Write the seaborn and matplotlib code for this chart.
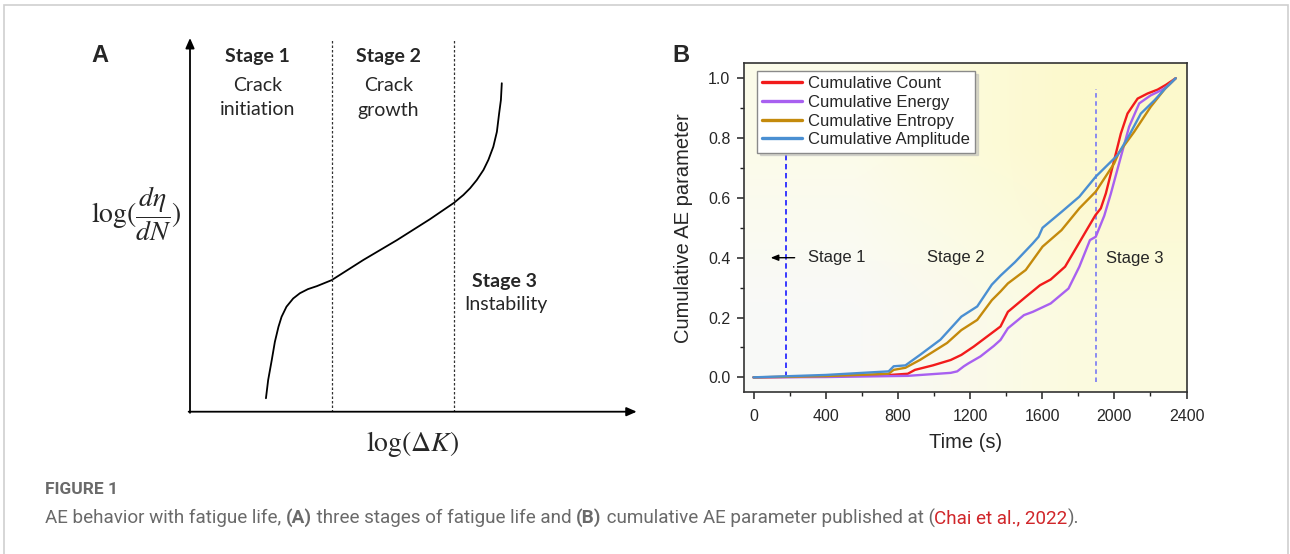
import matplotlib
matplotlib.use("Agg")
import matplotlib.pyplot as plt
from matplotlib.patches import Rectangle
import seaborn as sns
import pandas as pd
import numpy as np

# ---- Panel A: schematic crack growth curve (arbitrary units, 0-100)
curve_x = [17.0, 17.5, 18.3, 19.0, 19.8, 20.5, 21.6, 23.1, 24.6, 26.4, 28.4, 31.7, 38.8, 46.3,
           53.7, 59.1, 61.2, 62.7, 64.2, 65.7, 66.8, 67.9, 68.7, 69.2, 69.6, 69.8]
curve_y = [3.6, 8.5, 13.8, 18.7, 22.7, 25.4, 28.1, 30.3, 31.7, 32.8, 33.6, 35.2, 40.6, 45.9,
           51.5, 55.9, 58.0, 59.8, 62.0, 64.7, 67.4, 70.9, 74.9, 79.8, 83.4, 87.9]
stage_bounds = [31.7, 59.1]

# ---- Panel B: cumulative AE parameters
time_count = [0, 300, 756, 855, 895, 994, 1093, 1152, 1221, 1296, 1369, 1410, 1509, 1588,
              1647, 1727, 1776, 1846, 1895, 1925, 1953, 1990, 2036, 2073, 2129, 2184, 2240,
              2286, 2340]
count = [0, 0.002, 0.008, 0.012, 0.025, 0.04, 0.058, 0.075, 0.103, 0.137, 0.17, 0.219, 0.269,
         0.308, 0.327, 0.37, 0.42, 0.492, 0.542, 0.565, 0.615, 0.704, 0.815, 0.882, 0.932,
         0.949, 0.962, 0.978, 1.0]

time_energy = [0, 400, 855, 1093, 1129, 1166, 1192, 1258, 1332, 1369, 1410, 1499, 1548, 1647,
               1746, 1806, 1865, 1897, 1944, 1981, 2036, 2082, 2138, 2202, 2261, 2301, 2340]
energy = [0, 0.001, 0.005, 0.015, 0.02, 0.037, 0.047, 0.07, 0.105, 0.125, 0.164, 0.208, 0.219,
          0.247, 0.297, 0.37, 0.459, 0.47, 0.54, 0.615, 0.737, 0.838, 0.916, 0.943, 0.96,
          0.977, 1.0]

time_entropy = [0, 400, 749, 777, 842, 925, 1073, 1152, 1240, 1321, 1369, 1410, 1509, 1602,
                1707, 1806, 1897, 1999, 2024, 2110, 2202, 2281, 2340]
entropy = [0, 0.004, 0.012, 0.025, 0.032, 0.059, 0.115, 0.158, 0.192, 0.258, 0.287, 0.314,
           0.359, 0.437, 0.492, 0.565, 0.621, 0.715, 0.75, 0.821, 0.905, 0.965, 1.0]

time_amp = [0, 400, 749, 777, 842, 925, 1036, 1152, 1240, 1321, 1369, 1449, 1548, 1580, 1602,
            1707, 1806, 1897, 2018, 2083, 2147, 2222, 2281, 2340]
amp = [0, 0.008, 0.02, 0.037, 0.04, 0.076, 0.126, 0.203, 0.237, 0.31, 0.34, 0.385, 0.448,
       0.47, 0.5, 0.553, 0.604, 0.671, 0.743, 0.81, 0.882, 0.926, 0.965, 1.0]

series_names = ["Cumulative Count", "Cumulative Energy", "Cumulative Entropy", "Cumulative Amplitude"]
series_colors = ["#f21b1b", "#a860f0", "#c48a0c", "#4a8fd2"]
stage_lines = [180, 1897]

# Long dataframe for seaborn
frames = []
for name, t, v in zip(series_names,
                      [time_count, time_energy, time_entropy, time_amp],
                      [count, energy, entropy, amp]):
    frames.append(pd.DataFrame({"time": t, "value": v, "series": name}))
ae_df = pd.concat(frames, ignore_index=True)

sns.set_style("ticks")
plt.rcParams["font.family"] = ["Liberation Sans", "DejaVu Sans"]
plt.rcParams["mathtext.fontset"] = "stix"

W, H = 1290, 554
fig = plt.figure(figsize=(W / 100, H / 100), dpi=100)

# Outer light frame
fig.patches.append(Rectangle((4 / W, -0.1), (1287.5 - 4) / W, 1.1 - 5 / H,
                             transform=fig.transFigure, fill=False,
                             edgecolor="#cfcfcf", linewidth=1.2))

# ---------------- Panel A ----------------
axA = fig.add_axes([190 / W, (H - 411.7) / H, 446.7 / W, 373.7 / H])
axA.set_xlim(0, 100)
axA.set_ylim(0, 100)
axA.axis("off")

sns.lineplot(x=curve_x, y=curve_y, sort=False, color="black", linewidth=1.3, ax=axA)
for xb in stage_bounds:
    axA.plot([xb, xb], [0, 99.5], color="#333333", linewidth=0.9, linestyle=(0, (2, 1.6)))

arrow_kw = dict(arrowstyle="-|>,head_length=0.5,head_width=0.22", color="black",
                lw=1.3, mutation_scale=12, shrinkA=0, shrinkB=0)
axA.annotate("", xy=(0, 100), xytext=(0, -0.3), arrowprops=arrow_kw, annotation_clip=False)
axA.annotate("", xy=(100, 0), xytext=(-0.3, 0), arrowprops=arrow_kw, annotation_clip=False)

lato = ["Lato", "DejaVu Sans"]
axA.text(15.0, 95.0, "Stage 1", ha="center", va="center", fontsize=14, fontweight="bold", family=lato)
axA.text(15.2, 87.4, "Crack", ha="center", va="center", fontsize=14, family=lato)
axA.text(15.2, 80.9, "initiation", ha="center", va="center", fontsize=14, family=lato)
axA.text(44.4, 95.0, "Stage 2", ha="center", va="center", fontsize=14, fontweight="bold", family=lato)
axA.text(44.4, 87.4, "Crack", ha="center", va="center", fontsize=14, family=lato)
axA.text(44.4, 80.7, "growth", ha="center", va="center", fontsize=14, family=lato)
axA.text(70.5, 34.8, "Stage 3", ha="center", va="center", fontsize=14, fontweight="bold", family=lato)
axA.text(70.7, 28.6, "Instability", ha="center", va="center", fontsize=14, family=lato)

fig.text(136 / W, 1 - 214 / H, r"$\log(\dfrac{d\eta}{dN})$", ha="center", va="center", fontsize=20)
fig.text(413 / W, 1 - 444 / H, r"$\log(\Delta K)$", ha="center", va="center", fontsize=20)

fig.text(100 / W, 1 - 56 / H, "A", ha="center", va="center", fontsize=17, fontweight="bold")
fig.text(681 / W, 1 - 55 / H, "B", ha="center", va="center", fontsize=17, fontweight="bold")

# ---------------- Panel B ----------------
axB = fig.add_axes([744.3 / W, (H - 392.3) / H, 442.2 / W, 329 / H])
xlim = (-51, 2400)
ylim = (-0.05, 1.05)

# soft yellow background gradient
grad = np.array([[[0.988, 0.986, 0.915], [0.99, 0.978, 0.80]],
                 [[0.976, 0.978, 0.972], [0.987, 0.982, 0.875]]])
axB.imshow(grad, extent=[xlim[0], xlim[1], ylim[0], ylim[1]], aspect="auto",
           interpolation="bilinear", zorder=0)

sns.lineplot(data=ae_df, x="time", y="value", hue="series", hue_order=series_names,
             palette=dict(zip(series_names, series_colors)), estimator=None, sort=False,
             linewidth=1.7, ax=axB)

axB.plot([stage_lines[0]] * 2, [0, 0.97], color="#2a2aff", linewidth=1.3, linestyle=(0, (3, 2)), zorder=1)
axB.plot([stage_lines[1]] * 2, [-0.015, 0.965], color="#8282f2", linewidth=1.3, linestyle=(0, (2.5, 2)), zorder=1)

axB.annotate("", xy=(95, 0.4), xytext=(228, 0.4),
             arrowprops=dict(arrowstyle="-|>,head_length=0.5,head_width=0.2", color="black",
                             lw=1.0, mutation_scale=9, shrinkA=0, shrinkB=0))
axB.text(464, 0.4, "Stage 1", ha="center", va="center", fontsize=12)
axB.text(1124, 0.4, "Stage 2", ha="center", va="center", fontsize=12)
axB.text(2113, 0.398, "Stage 3", ha="center", va="center", fontsize=12)

axB.set_xlim(*xlim)
axB.set_ylim(*ylim)
axB.set_xticks(np.arange(0, 2401, 400))
axB.set_xticks(np.arange(200, 2400, 400), minor=True)
axB.set_yticks(np.arange(0, 1.01, 0.2))
axB.set_yticks(np.arange(0.1, 1.0, 0.2), minor=True)
axB.set_yticklabels([f"{v:.1f}" for v in np.arange(0, 1.01, 0.2)])
axB.tick_params(which="major", direction="out", length=5, width=1.1, labelsize=11.5, pad=5, color="#222222")
axB.tick_params(which="minor", direction="out", length=3, width=1.0, color="#222222")
axB.tick_params(axis="x", which="major", pad=7)
for sp in axB.spines.values():
    sp.set_visible(True)
    sp.set_linewidth(1.2)
    sp.set_color("#333333")

axB.set_xlabel("Time (s)", fontsize=14.5)
axB.set_ylabel("Cumulative AE parameter", fontsize=14.5)
axB.xaxis.set_label_coords(0.5, -0.123)
axB.yaxis.set_label_coords(-0.115, 0.5)

leg = axB.legend(loc="upper left", bbox_to_anchor=(0.0287, 0.9766), borderaxespad=0,
                 fontsize=12, frameon=True, fancybox=False, framealpha=1,
                 edgecolor="#8a8a8a", labelspacing=0.22, borderpad=0.32,
                 handlelength=2.4, handletextpad=0.35, shadow={"ox": 2, "oy": -2, "color": "#b8b8b8"})
leg.get_frame().set_linewidth(1.0)
for line in leg.get_lines():
    line.set_linewidth(2.4)

# ---------------- Caption ----------------
cap_color = "#6a6a6a"
narrow = ["Liberation Sans Narrow", "Roboto", "DejaVu Sans"]
fig.text(45 / W, 1 - 490 / H, "FIGURE 1", ha="left", va="center", fontsize=12.5,
         fontweight="bold", color=cap_color, family=narrow)

caption_parts = [
    ("AE behavior with fatigue life, ", "normal", cap_color),
    ("(A)", "bold", cap_color),
    (" three stages of fatigue life and ", "normal", cap_color),
    ("(B)", "bold", cap_color),
    (" cumulative AE parameter published at (", "normal", cap_color),
    ("Chai et al., 2022", "normal", "#d0262a"),
    (").", "normal", cap_color),
]
renderer = fig.canvas.get_renderer()
x_cursor = 45 / W
for txt, weight, col in caption_parts:
    t = fig.text(x_cursor, 1 - 518 / H, txt, ha="left", va="center", fontsize=13.6,
                 fontweight=weight, color=col, family=narrow)
    bb = t.get_window_extent(renderer=renderer)
    x_cursor = bb.x1 / W

fig.savefig("out.png", dpi=100)
